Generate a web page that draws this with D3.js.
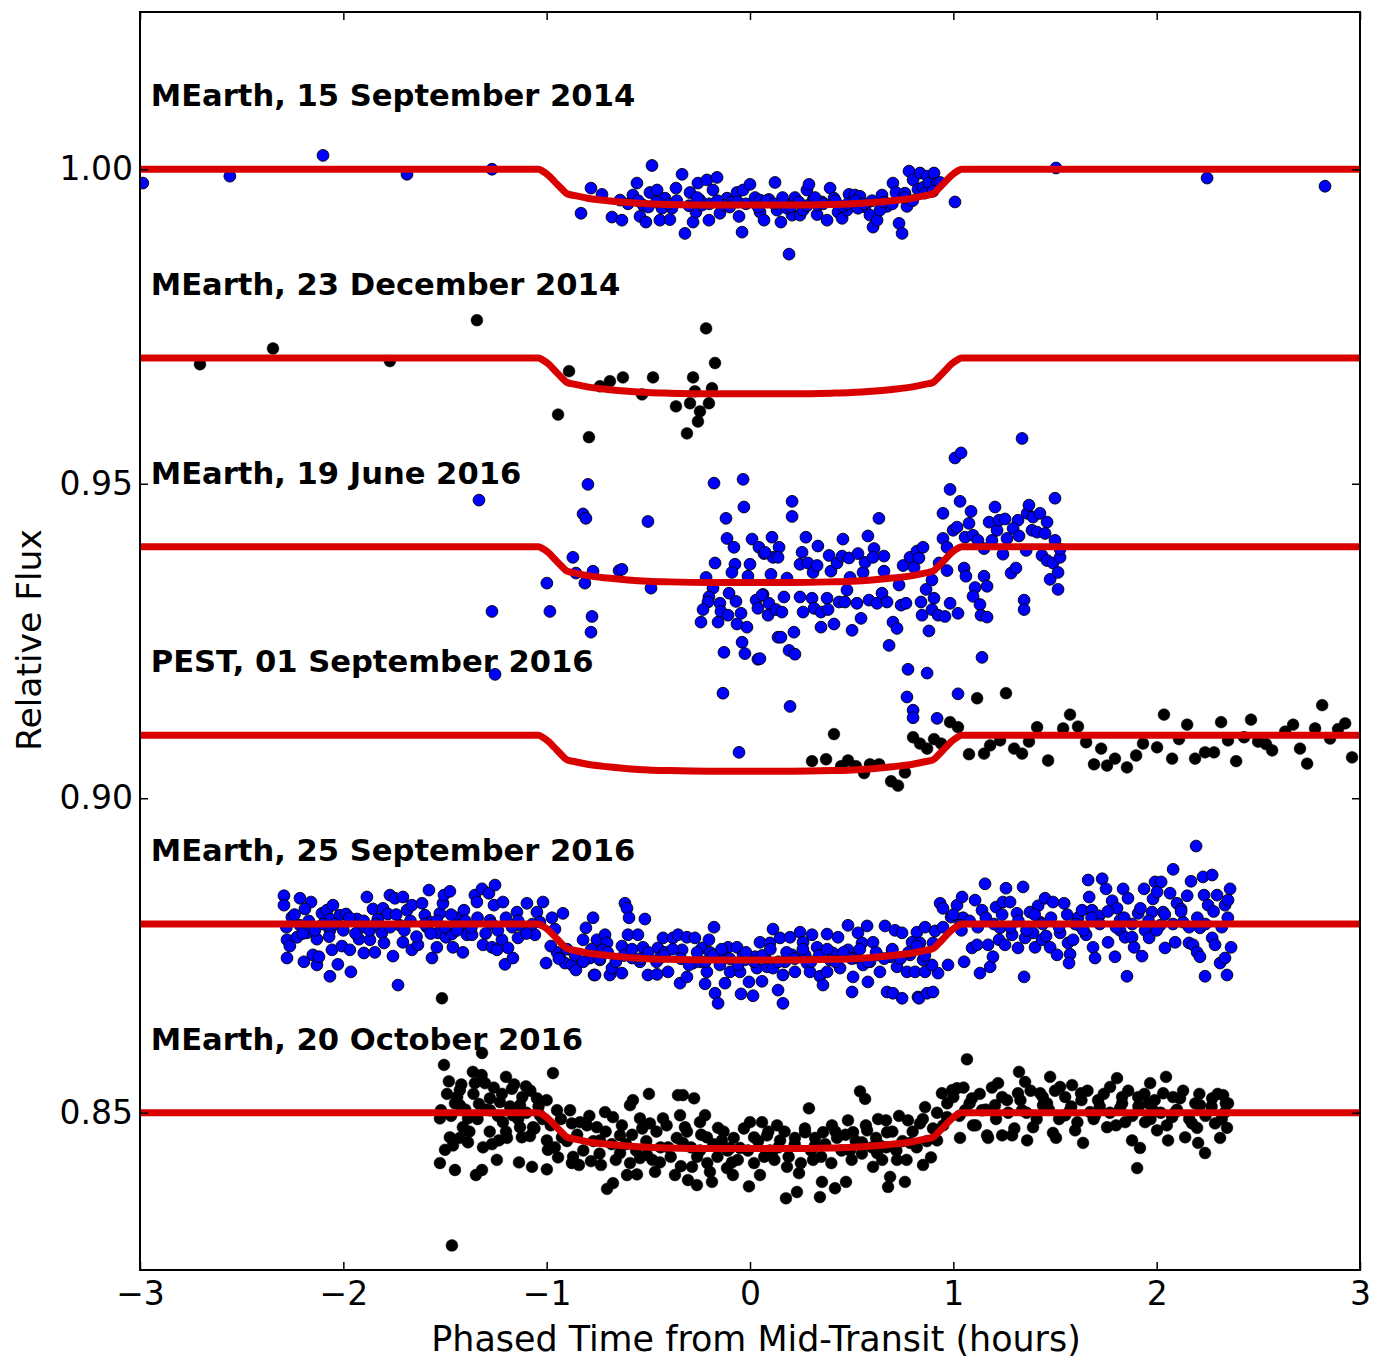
<!DOCTYPE html>
<html><head><meta charset="utf-8">
<script src="https://cdn.jsdelivr.net/npm/d3@7"></script>
<style>body{margin:0;background:#fff}svg{display:block}</style>
</head><body>
<svg id="c" width="1388" height="1359"></svg>
<script>
const xTicks=[-3,-2,-1,0,1,2,3];
const yTicks=[0.85,0.90,0.95,1.00];
const offsets=[1.00,0.97,0.94,0.91,0.88,0.85];
const titles=["MEarth, 15 September 2014","MEarth, 23 December 2014","MEarth, 19 June 2016","PEST, 01 September 2016","MEarth, 25 September 2016","MEarth, 20 October 2016"];
const markerColors=["#0000ff","#000000","#0000ff","#000000","#0000ff","#000000"];
const modelTime=[-3,-1.04,-1.02,-0.99,-0.96,-0.93,-0.9,-0.86,-0.8,-0.7,-0.6,-0.5,-0.4,-0.2,0,0.2,0.4,0.5,0.6,0.7,0.8,0.86,0.9,0.93,0.96,0.99,1.02,1.04,3];
const modelDepth=[0,0,-0.0003,-0.0010,-0.0020,-0.0030,-0.0039,-0.0042,-0.0046,-0.0050,-0.0053,-0.0055,-0.0056,-0.0057,-0.0057,-0.0057,-0.0056,-0.0055,-0.0053,-0.0050,-0.0046,-0.0042,-0.0039,-0.0030,-0.0020,-0.0010,-0.0003,0,0];

const sep2014=[[-2.986,0.9978],[-2.558,0.9989],[-2.100,1.0022],[-1.687,0.9992],[-1.269,1.0000],[1.008,0.9948],[1.505,1.0002],[2.248,0.9986],[2.828,0.9973],
[-0.831,0.9930],[-0.782,0.9970],[-0.728,0.9960],[-0.679,0.9924],[-0.630,0.9919],[-0.576,0.9959],[-0.556,0.9978],[-0.541,0.9925],[-0.512,0.9916],[-0.526,0.9943],[-0.482,1.0006],[-0.492,0.9963],[-0.457,0.9967],[-0.443,0.9919],[-0.418,0.9954],[-0.394,0.9920],[-0.384,0.9938],[-0.364,0.9970],[-0.334,0.9992],[-0.320,0.9898],[-0.295,0.9963],[-0.280,0.9916],[-0.266,0.9932],[-0.256,0.9978],[-0.236,0.9943],[-0.212,0.9983],[-0.202,0.9919],[-0.182,0.9967],[-0.162,0.9987],[-0.148,0.9930],[-0.113,0.9954],[-0.089,0.9948],[-0.064,0.9963],[-0.054,0.9925],[-0.039,0.9900],[-0.034,0.9967],[0.000,0.9976],[0.025,0.9955],[0.049,0.9932],[0.069,0.9919],[0.093,0.9952],[0.123,0.9979],[0.133,0.9935],[0.152,0.9916],[0.172,0.9946],[0.192,0.9865],[0.207,0.9927],[0.221,0.9955],[0.246,0.9927],[0.261,0.9935],[0.280,0.9967],[0.290,0.9976],[0.310,0.9951],[0.330,0.9928],[0.354,0.9948],[0.379,0.9919],[0.394,0.9970],[0.413,0.9954],[0.433,0.9932],[0.453,0.9922],[0.477,0.9935],[0.487,0.9960],[0.516,0.9959],[0.541,0.9957],[0.566,0.9940],[0.590,0.9927],[0.605,0.9908],[0.625,0.9919],[0.649,0.9959],[0.674,0.9941],[0.703,0.9978],[0.718,0.9963],[0.733,0.9914],[0.748,0.9898],[0.762,0.9962],[0.772,0.9941],[0.782,0.9997],[0.802,0.9983],[0.826,0.9968],[0.836,0.9994],[0.851,0.9971],[0.871,0.9989],[0.880,0.9978],[0.905,0.9994],[0.920,0.9978],[0.935,0.9979],
[-0.246,0.9951],[-0.128,0.9943],[0.049,0.9951],[0.182,0.9938],[0.334,0.9943],[0.457,0.9941],[0.531,0.9938],[0.639,0.9935],[-0.433,0.9938],[-0.639,0.9951],
[-0.60,0.9945],[-0.55,0.9950],[-0.50,0.9940],[-0.46,0.9948],[-0.40,0.9945],[-0.36,0.9950],[-0.30,0.9942],[-0.26,0.9955],[-0.20,0.9945],[-0.16,0.9950],[-0.10,0.9940],[-0.06,0.9948],[-0.02,0.9945],[0.04,0.9940],[0.08,0.9950],[0.12,0.9945],[0.16,0.9955],[0.20,0.9940],[0.24,0.9948],[0.28,0.9942],[0.32,0.9955],[0.36,0.9945],[0.42,0.9950],[0.48,0.9945],[0.52,0.9950],[0.56,0.9945],[0.60,0.9950],[0.66,0.9948],[0.70,0.9945],[0.76,0.9955],[0.80,0.9950],[0.86,0.9962],[0.90,0.9965]];

const dec2014=[[-2.705,0.9690],[-2.346,0.9715],[-1.771,0.9695],[-1.343,0.9760],[-0.890,0.9679],[-0.944,0.9610],[-0.792,0.9574],[-0.738,0.9655],[-0.689,0.9663],[-0.625,0.9669],[-0.531,0.9642],[-0.477,0.9669],[-0.364,0.9623],[-0.310,0.9580],[-0.295,0.9628],[-0.280,0.9669],[-0.271,0.9647],[-0.256,0.9599],[-0.246,0.9615],[-0.216,0.9747],[-0.202,0.9628],[-0.187,0.9652],[-0.172,0.9692]];

const jun2016=[[-1.333,0.9474],[-1.269,0.9297],[-1.254,0.9197],[-0.999,0.9342],[-0.984,0.9297],[-0.871,0.9383],[-0.856,0.9358],[-0.812,0.9342],[-0.797,0.9499],[-0.821,0.9452],[-0.807,0.9445],[-0.772,0.9361],[-0.777,0.9289],[-0.782,0.9264],[-0.644,0.9362],[-0.630,0.9364],[-0.502,0.9440],[-0.487,0.9334],[-0.177,0.9501],[-0.034,0.9507],[-0.030,0.9463],[-0.118,0.9445],[-0.113,0.9413],[-0.079,0.9399],[-0.172,0.9374],[-0.216,0.9351],[-0.074,0.9372],[-0.089,0.9359],[-0.182,0.9334],[-0.202,0.9320],[-0.207,0.9312],[-0.231,0.9300],[-0.241,0.9280],[-0.157,0.9280],[-0.148,0.9310],[-0.143,0.9297],[-0.103,0.9326],[-0.108,0.9291],[-0.069,0.9313],[-0.044,0.9294],[-0.064,0.9277],[-0.015,0.9272],[-0.039,0.9248],[-0.128,0.9232],[-0.025,0.9230],[0.039,0.9221],[0.010,0.9412],[0.000,0.9372],[-0.010,0.9353],[0.044,0.9399],[0.069,0.9389],[0.108,0.9415],[0.113,0.9383],[0.103,0.9356],[0.064,0.9324],[0.030,0.9315],[0.039,0.9302],[0.093,0.9310],[0.089,0.9291],[0.128,0.9300],[0.138,0.9256],[0.207,0.9472],[0.207,0.9448],[0.074,0.9391],[0.143,0.9399],[0.138,0.9383],[0.059,0.9323],[0.157,0.9296],[0.167,0.9320],[0.182,0.9350],[0.152,0.9256],[0.216,0.9264],[0.192,0.9235],[0.221,0.9229],[0.049,0.9222],[0.246,0.9372],[0.256,0.9391],[0.275,0.9415],[0.285,0.9374],[0.310,0.9359],[0.334,0.9401],[0.330,0.9370],[0.246,0.9320],[0.261,0.9296],[0.305,0.9318],[0.315,0.9302],[0.349,0.9296],[0.349,0.9272],[0.379,0.9318],[0.389,0.9386],[0.398,0.9361],[0.384,0.9300],[0.413,0.9277],[0.428,0.9374],[0.453,0.9385],[0.457,0.9412],[0.438,0.9312],[0.467,0.9312],[0.477,0.9331],[0.487,0.9382],[0.492,0.9351],[0.502,0.9267],[0.531,0.9389],[0.526,0.9310],[0.546,0.9286],[0.556,0.9359],[0.566,0.9375],[0.580,0.9417],[0.585,0.9315],[0.610,0.9397],[0.605,0.9383],[0.634,0.9445],[0.625,0.9310],[0.659,0.9385],[0.659,0.9361],[0.649,0.9326],[0.674,0.9312],[0.703,0.9280],[0.723,0.9270],[0.684,0.9243],[0.733,0.9339],[0.743,0.9307],[0.753,0.9370],[0.767,0.9310],[0.777,0.9205],[0.787,0.9383],[0.807,0.9367],[0.821,0.9393],[0.831,0.9382],[0.851,0.9399],[0.841,0.9312],[0.846,0.9291],[0.866,0.9332],[0.871,0.9199],[0.880,0.9266],[0.895,0.9347],[0.905,0.9318],[0.895,0.9300],[0.930,0.9374],[0.925,0.9291],[0.959,0.9289],[0.949,0.9413],[0.949,0.9453],[0.969,0.9362],[0.969,0.9399],[0.984,0.9491],[0.999,0.9426],[1.008,0.9541],[1.038,0.9549],[1.018,0.9431],[1.033,0.9472],[0.984,0.9310],[1.023,0.9294],[1.053,0.9366],[1.062,0.9353],[1.077,0.9437],[1.087,0.9456],[1.058,0.9415],[1.097,0.9418],[1.107,0.9335],[1.097,0.9321],[1.131,0.9308],[1.136,0.9291],[1.166,0.9288],[1.151,0.9353],[1.166,0.9337],[1.141,0.9224],[1.121,0.9410],[1.151,0.9397],[1.176,0.9439],[1.205,0.9463],[1.190,0.9410],[1.215,0.9426],[1.225,0.9442],[1.254,0.9444],[1.244,0.9388],[1.264,0.9413],[1.284,0.9358],[1.308,0.9366],[1.318,0.9442],[1.294,0.9429],[1.323,0.9417],[1.348,0.9315],[1.348,0.9300],[1.338,0.9572],[1.358,0.9394],[1.363,0.9453],[1.372,0.9466],[1.392,0.9447],[1.387,0.9426],[1.426,0.9453],[1.412,0.9423],[1.436,0.9386],[1.461,0.9439],[1.451,0.9421],[1.461,0.9378],[1.476,0.9348],[1.500,0.9477],[1.500,0.9410],[1.490,0.9374],[1.515,0.9359],[1.515,0.9332],[1.525,0.9383],[1.525,0.9396],
[-0.133,0.9167],[0.197,0.9146],[-0.054,0.9073],[0.772,0.9161],[0.802,0.9140],[0.802,0.9128],[0.920,0.9127],[1.023,0.9166]];

const pest2016=[[0.413,0.9102],[0.305,0.9059],[0.374,0.9062],[0.448,0.9051],[0.482,0.9060],[0.521,0.9051],[0.561,0.9040],[0.590,0.9054],[0.635,0.9054],[0.694,0.9027],[0.728,0.9020],[0.762,0.9041],[0.802,0.9097],[0.836,0.9087],[0.871,0.9079],[0.905,0.9094],[0.940,0.9087],[0.984,0.9121],[1.023,0.9113],[1.117,0.9159],[1.077,0.9070],[1.151,0.9071],[1.181,0.9084],[1.230,0.9092],[1.259,0.9167],[1.299,0.9079],[1.338,0.9071],[1.372,0.9090],[1.412,0.9113],[1.466,0.9060],[1.540,0.9111],[1.574,0.9133],[1.613,0.9114],[1.653,0.9089],[1.692,0.9054],[1.727,0.9079],[1.756,0.9052],[1.795,0.9063],[1.854,0.9049],[1.899,0.9068],[1.933,0.9087],[2.002,0.9081],[2.036,0.9133],[2.076,0.9063],[2.110,0.9094],[2.150,0.9117],[2.189,0.9063],[2.238,0.9073],[2.282,0.9073],[2.317,0.9121],[2.351,0.9092],[2.391,0.9059],[2.430,0.9097],[2.464,0.9125],[2.499,0.9090],[2.538,0.9086],[2.568,0.9076],[2.632,0.9106],[2.671,0.9117],[2.705,0.9079],[2.740,0.9055],[2.779,0.9111],[2.814,0.9148],[2.853,0.9095],[2.892,0.9110],[2.927,0.9119],[2.961,0.9065]];

const sep2016=[[-2.292,0.8845],[-2.292,0.8830],[-2.213,0.8841],[-2.159,0.8835],[-2.189,0.8824],[-2.253,0.8811],[-2.277,0.8775],[-2.263,0.8765],[-2.228,0.8779],[-2.277,0.8746],[-2.194,0.8740],[-2.150,0.8751],[-2.130,0.8735],[-2.120,0.8748],[-2.179,0.8786],[-2.130,0.8776],[-2.105,0.8817],[-2.081,0.8822],[-2.051,0.8830],[-2.066,0.8808],[-2.056,0.8759],[-2.066,0.8717],[-2.027,0.8736],[-2.017,0.8814],[-2.007,0.8765],[-1.987,0.8816],[-1.968,0.8759],[-1.963,0.8724],[-1.933,0.8808],[-1.923,0.8776],[-1.884,0.8843],[-1.894,0.8795],[-1.899,0.8754],[-1.869,0.8775],[-1.854,0.8824],[-1.845,0.8755],[-1.830,0.8808],[-1.810,0.8786],[-1.805,0.8825],[-1.781,0.8816],[-1.771,0.8846],[-1.756,0.8749],[-1.746,0.8841],[-1.731,0.8703],[-1.707,0.8843],[-1.687,0.8822],[-1.707,0.8771],[-1.663,0.8759],[-1.663,0.8830],[-1.633,0.8767],[-1.613,0.8833],[-1.599,0.8814],[-1.589,0.8795],[-1.579,0.8854],[-1.564,0.8746],[-1.540,0.8763],[-1.535,0.8786],[-1.525,0.8817],[-1.510,0.8833],[-1.505,0.8846],[-1.476,0.8852],[-1.495,0.8779],[-1.466,0.8784],[-1.461,0.8763],[-1.441,0.8810],[-1.412,0.8755],[-1.407,0.8822],[-1.392,0.8783],[-1.367,0.8783],[-1.353,0.8846],[-1.343,0.8835],[-1.318,0.8856],[-1.313,0.8767],[-1.284,0.8849],[-1.269,0.8763],[-1.254,0.8862],[-1.259,0.8830],[-1.244,0.8759],[-1.215,0.8835],[-1.220,0.8775],[-1.190,0.8762],[-1.205,0.8736],[-1.166,0.8746],[-1.146,0.8819],[-1.141,0.8778],[-1.097,0.8833],[-1.082,0.8794],[-1.058,0.8783],[-1.048,0.8819],[-1.018,0.8835],[-1.003,0.8738],[-0.974,0.8810],[-0.959,0.8792],[-0.949,0.8755],[-0.935,0.8746],[-0.920,0.8817],[-0.910,0.8738],[-0.876,0.8735],[-0.856,0.8727],[-0.821,0.8775],[-0.807,0.8794],[-0.787,0.8746],[-0.772,0.8810],[-0.767,0.8719],[-0.748,0.8763],[-0.615,0.8833],[-0.605,0.8825],[-0.595,0.8810],[-0.517,0.8808],[-0.753,0.8775],[-0.713,0.8783],[-0.703,0.8770],[-0.728,0.8759],[-0.762,0.8719],[-0.689,0.8719],[-0.679,0.8730],[-0.630,0.8722],[-0.630,0.8765],[-0.600,0.8783],[-0.580,0.8746],[-0.551,0.8783],[-0.526,0.8763],[-0.502,0.8719],[-0.457,0.8720],[-0.453,0.8762],[-0.418,0.8755],[-0.403,0.8724],[-0.428,0.8778],[-0.379,0.8778],[-0.354,0.8783],[-0.344,0.8706],[-0.334,0.8759],[-0.310,0.8779],[-0.310,0.8716],[-0.271,0.8778],[-0.280,0.8738],[-0.236,0.8762],[-0.221,0.8705],[-0.202,0.8775],[-0.197,0.8755],[-0.212,0.8724],[-0.177,0.8795],[-0.172,0.8690],[-0.157,0.8674],[-0.138,0.8751],[-0.123,0.8706],[-0.108,0.8763],[-0.098,0.8724],[-0.064,0.8763],[-0.049,0.8724],[-0.044,0.8689],[-0.034,0.8751],[-0.005,0.8708],[0.015,0.8686],[0.025,0.8748],[0.034,0.8730],[0.049,0.8771],[0.059,0.8709],[0.084,0.8732],[0.098,0.8770],[0.113,0.8792],[0.113,0.8730],[0.138,0.8695],[0.162,0.8674],[0.148,0.8778],[0.162,0.8719],[0.197,0.8779],[0.207,0.8751],[0.221,0.8724],[0.246,0.8787],[0.261,0.8771],[0.280,0.8738],[0.295,0.8724],[0.305,0.8783],[0.330,0.8763],[0.344,0.8717],[0.359,0.8703],[0.379,0.8784],[0.379,0.8724],[0.408,0.8754],[0.433,0.8779],[0.443,0.8730],[0.482,0.8798],[0.482,0.8759],[0.502,0.8692],[0.507,0.8716],[0.531,0.8786],[0.551,0.8770],[0.556,0.8735],[0.576,0.8797],[0.580,0.8708],[0.605,0.8771],[0.625,0.8751],[0.639,0.8724],[0.664,0.8797],[0.674,0.8692],[0.699,0.8759],[0.703,0.8690],[0.713,0.8790],[0.723,0.8732],[0.748,0.8786],[0.748,0.8682],[0.772,0.8724],[0.797,0.8771],[0.812,0.8724],[0.821,0.8787],[0.826,0.8684],[0.831,0.8682],[0.871,0.8690],[0.900,0.8692],[0.861,0.8724],[0.925,0.8722],[0.895,0.8735],[0.851,0.8743],[0.836,0.8770],[0.861,0.8795],[0.910,0.8789],[0.949,0.8795],[0.935,0.8833],[0.949,0.8825],[0.989,0.8811],[0.974,0.8735],[1.018,0.8830],[1.043,0.8843],[1.053,0.8740],[1.048,0.8810],[1.092,0.8762],[1.117,0.8767],[1.107,0.8838],[1.131,0.8722],[1.156,0.8864],[1.141,0.8822],[1.171,0.8767],[1.181,0.8732],[1.195,0.8748],[1.210,0.8827],[1.225,0.8775],[1.254,0.8767],[1.259,0.8857],[1.244,0.8835],[1.279,0.8835],[1.289,0.8783],[1.313,0.8817],[1.318,0.8762],[1.343,0.8859],[1.353,0.8778],[1.348,0.8716],[1.377,0.8819],[1.392,0.8786],[1.402,0.8763],[1.417,0.8829],[1.436,0.8775],[1.451,0.8841],[1.456,0.8781],[1.476,0.8763],[1.490,0.8835],[1.510,0.8751],[1.525,0.8786],[1.545,0.8833],[1.564,0.8770],[1.574,0.8752],[1.569,0.8738],[1.589,0.8775],[1.613,0.8810],[1.633,0.8822],[1.653,0.8783],[1.663,0.8870],[1.668,0.8843],[1.682,0.8822],[1.687,0.8763],[1.697,0.8746],[1.717,0.8813],[1.732,0.8872],[1.751,0.8856],[1.761,0.8771],[1.781,0.8837],[1.795,0.8748],[1.805,0.8825],[1.820,0.8790],[1.835,0.8856],[1.845,0.8779],[1.859,0.8841],[1.854,0.8717],[1.879,0.8779],[1.889,0.8763],[1.909,0.8817],[1.928,0.8749],[1.938,0.8856],[1.943,0.8790],[1.963,0.8778],[1.977,0.8819],[1.982,0.8840],[1.992,0.8867],[2.002,0.8851],[2.022,0.8867],[2.032,0.8819],[2.041,0.8762],[2.066,0.8849],[2.081,0.8887],[2.091,0.8771],[2.100,0.8833],[2.120,0.8824],[2.130,0.8803],[2.150,0.8845],[2.159,0.8770],[2.169,0.8868],[2.179,0.8767],[2.194,0.8924],[2.199,0.8755],[2.213,0.8748],[2.228,0.8875],[2.233,0.8846],[2.238,0.8717],[2.253,0.8830],[2.273,0.8878],[2.273,0.8778],[2.287,0.8767],[2.297,0.8846],[2.312,0.8738],[2.336,0.8746],[2.336,0.8830],[2.346,0.8719],[2.351,0.8838],[2.361,0.8856],[2.366,0.8763],
[-0.738,0.8743],[-0.541,0.8740],[-0.443,0.8746],[-0.246,0.8740],[-0.148,0.8735],[-0.025,0.8743],[0.074,0.8746],[0.172,0.8740],[0.271,0.8751],[0.394,0.8743],[0.516,0.8746],[0.590,0.8740],[0.689,0.8748],[0.787,0.8751],
[-2.213,0.8798],[-2.066,0.8790],[-1.918,0.8794],[-1.722,0.8798],[-1.574,0.8803],[-1.426,0.8798],[-1.279,0.8806],[-1.131,0.8798],[-1.033,0.8803],[1.033,0.8798],[1.230,0.8794],[1.426,0.8803],[1.623,0.8797],[1.820,0.8806],[2.017,0.8798],[2.213,0.8794],
[-2.28,0.8795],[-2.24,0.8815],[-2.20,0.8785],[-2.17,0.8805],[-2.14,0.8790],[-2.10,0.8800],[-2.07,0.8780],[-2.04,0.8800],[-2.00,0.8790],[-1.97,0.8810],[-1.94,0.8785],[-1.90,0.8805],[-1.87,0.8790],[-1.84,0.8800],[-1.80,0.8770],[-1.77,0.8795],[-1.74,0.8815],[-1.70,0.8790],[-1.67,0.8805],[-1.64,0.8780],[-1.60,0.8800],[-1.57,0.8785],[-1.54,0.8805],[-1.50,0.8795],[-1.47,0.8815],[-1.44,0.8790],[-1.40,0.8805],[-1.37,0.8795],[-1.34,0.8810],[-1.30,0.8785],[-1.27,0.8800],[-1.24,0.8790],[-1.20,0.8810],[-1.17,0.8795],[-1.14,0.8805],[-1.10,0.8785],[-1.07,0.8800],
[-0.98,0.8765],[-0.94,0.8745],[-0.90,0.8760],[-0.86,0.8750],[-0.82,0.8740],[-0.78,0.8760],[-0.74,0.8745],[-0.70,0.8755],[-0.66,0.8740],[-0.62,0.8750],[-0.58,0.8760],[-0.54,0.8745],[-0.50,0.8755],[-0.46,0.8740],[-0.42,0.8750],[-0.38,0.8760],[-0.34,0.8745],[-0.30,0.8735],[-0.26,0.8755],[-0.22,0.8740],[-0.18,0.8750],[-0.14,0.8760],[-0.10,0.8745],[-0.06,0.8735],[-0.02,0.8755],[0.02,0.8740],[0.06,0.8750],[0.10,0.8760],[0.14,0.8740],[0.18,0.8755],[0.22,0.8745],[0.26,0.8760],[0.30,0.8740],[0.34,0.8750],[0.38,0.8760],[0.42,0.8740],[0.46,0.8755],[0.50,0.8745],[0.54,0.8760],[0.58,0.8740],[0.62,0.8755],[0.66,0.8745],[0.70,0.8760],[0.74,0.8745],[0.78,0.8755],[0.82,0.8765],[0.86,0.8750],[0.90,0.8770],
[1.00,0.8815],[1.04,0.8790],[1.08,0.8805],[1.12,0.8795],[1.16,0.8810],[1.20,0.8800],[1.24,0.8815],[1.28,0.8795],[1.32,0.8805],[1.36,0.8790],[1.40,0.8815],[1.44,0.8800],[1.48,0.8810],[1.52,0.8795],[1.56,0.8815],[1.60,0.8800],[1.64,0.8790],[1.68,0.8810],[1.72,0.8800],[1.76,0.8820],[1.80,0.8795],[1.84,0.8810],[1.88,0.8800],[1.92,0.8825],[1.96,0.8805],[2.00,0.8790],[2.04,0.8815],[2.08,0.8800],[2.12,0.8820],[2.16,0.8795],[2.20,0.8810],[2.24,0.8800],[2.28,0.8820],[2.32,0.8795],[2.35,0.8810]];

const oct2016=[[-1.505,0.8576],[-1.481,0.8550],[-1.427,0.8536],[-1.363,0.8565],[-1.318,0.8595],[-1.303,0.8547],[-1.353,0.8547],[-1.200,0.8557],[-1.171,0.8538],[-1.102,0.8542],[-0.969,0.8563],[-1.048,0.8523],[-1.279,0.8523],[-1.230,0.8517],[-1.451,0.8515],[-1.333,0.8514],[-1.520,0.8504],[-1.525,0.8491],[-1.412,0.8477],[-1.387,0.8491],[-1.215,0.8485],[-1.131,0.8477],[-1.067,0.8477],[-1.166,0.8496],[-1.476,0.8461],[-1.427,0.8460],[-1.500,0.8441],[-1.461,0.8448],[-1.387,0.8453],[-1.313,0.8445],[-1.269,0.8450],[-1.235,0.8456],[-1.195,0.8460],[-1.122,0.8461],[-1.082,0.8463],[-0.999,0.8456],[-0.994,0.8441],[-0.949,0.8504],[-0.885,0.8504],[-0.925,0.8461],[-0.876,0.8483],[-0.836,0.8485],[-0.802,0.8480],[-0.753,0.8477],[-0.713,0.8501],[-0.674,0.8493],[-0.590,0.8512],[-0.576,0.8520],[-0.497,0.8530],[-0.541,0.8491],[-0.492,0.8483],[-0.428,0.8491],[-0.354,0.8528],[-0.344,0.8496],[-1.525,0.8420],[-1.451,0.8409],[-1.348,0.8401],[-1.318,0.8409],[-1.245,0.8425],[-1.136,0.8421],[-1.072,0.8414],[-0.999,0.8410],[-0.944,0.8429],[-0.876,0.8420],[-0.841,0.8417],[-0.782,0.8423],[-0.733,0.8417],[-0.703,0.8379],[-0.674,0.8388],[-0.639,0.8436],[-0.605,0.8401],[-0.590,0.8420],[-0.556,0.8402],[-0.541,0.8428],[-0.507,0.8433],[-0.467,0.8406],[-0.443,0.8421],[-0.369,0.8401],[-0.403,0.8445],[-0.330,0.8452],[-1.466,0.8289],[-1.515,0.8682],
[-0.275,0.8523],[-0.330,0.8528],[-0.320,0.8477],[-0.246,0.8485],[-0.221,0.8496],[-0.212,0.8461],[-0.285,0.8414],[-0.305,0.8393],[-0.261,0.8385],[-0.197,0.8406],[-0.187,0.8390],[-0.157,0.8476],[-0.138,0.8456],[-0.113,0.8412],[-0.089,0.8421],[-0.084,0.8401],[-0.049,0.8444],[0.000,0.8485],[-0.005,0.8383],[0.020,0.8461],[0.059,0.8485],[0.049,0.8401],[0.084,0.8464],[0.108,0.8436],[0.133,0.8480],[0.148,0.8456],[0.177,0.8364],[0.182,0.8414],[0.221,0.8460],[0.231,0.8374],[0.241,0.8404],[0.271,0.8469],[0.290,0.8507],[0.310,0.8425],[0.344,0.8366],[0.354,0.8390],[0.359,0.8469],[0.403,0.8480],[0.418,0.8380],[0.428,0.8460],[0.472,0.8390],[0.482,0.8488],[0.507,0.8469],[0.541,0.8534],[0.566,0.8522],[0.551,0.8453],[0.576,0.8472],[0.605,0.8414],[0.625,0.8436],[0.630,0.8490],[0.669,0.8488],[0.674,0.8469],[0.689,0.8398],[0.679,0.8382],[0.723,0.8425],[0.733,0.8495],[0.762,0.8390],[0.777,0.8488],[0.787,0.8452],[0.836,0.8483],[0.861,0.8509],[0.851,0.8417],[0.890,0.8429],[0.920,0.8456],[0.944,0.8531],[0.969,0.8493],[0.994,0.8536],
[1.067,0.8585],[1.018,0.8539],[1.033,0.8460],[1.092,0.8523],[1.097,0.8480],[1.141,0.8504],[1.166,0.8464],[1.171,0.8460],[1.220,0.8547],[1.240,0.8464],[1.264,0.8520],[1.289,0.8464],[1.318,0.8531],[1.323,0.8565],[1.353,0.8549],[1.363,0.8456],[1.392,0.8477],[1.427,0.8531],[1.441,0.8512],[1.476,0.8557],[1.490,0.8468],[1.505,0.8460],[1.525,0.8541],[1.550,0.8496],[1.584,0.8544],[1.599,0.8472],[1.628,0.8531],[1.638,0.8452],[1.672,0.8501],[1.712,0.8520],[1.756,0.8477],[1.771,0.8541],[1.805,0.8555],[1.830,0.8525],[1.845,0.8485],[1.879,0.8456],[1.904,0.8412],[1.909,0.8525],[1.918,0.8444],[1.943,0.8485],[1.968,0.8547],[1.982,0.8504],[2.002,0.8472],[2.032,0.8531],[2.046,0.8557],[2.056,0.8456],[2.076,0.8493],[2.115,0.8523],[2.140,0.8461],[2.174,0.8483],[2.199,0.8476],[2.204,0.8452],[2.238,0.8436],[2.273,0.8523],[2.287,0.8483],[2.312,0.8460],[2.327,0.8528],[2.346,0.8476],[2.351,0.8515],
[1.058,0.8504],[1.205,0.8512],[1.338,0.8504],[1.461,0.8515],[1.574,0.8504],[1.697,0.8496],[1.820,0.8507],[1.958,0.8515],[2.091,0.8501],[2.213,0.8512],[2.336,0.8501],
[-0.246,0.8440],[-0.098,0.8444],[0.098,0.8440],[0.320,0.8448],[0.492,0.8440],[0.639,0.8448],[-0.738,0.8456],[-0.639,0.8464],[-1.427,0.8512],[-1.279,0.8504],[-1.131,0.8512],[-1.033,0.8496],
[-1.49,0.8530],[-1.47,0.8495],[-1.44,0.8525],[-1.42,0.8545],[-1.40,0.8505],[-1.38,0.8470],[-1.36,0.8530],[-1.34,0.8490],[-1.32,0.8560],[-1.30,0.8505],[-1.28,0.8470],[-1.26,0.8540],[-1.24,0.8495],[-1.22,0.8530],[-1.20,0.8470],[-1.18,0.8510],[-1.16,0.8545],[-1.14,0.8490],[-1.12,0.8525],[-1.10,0.8500],[-1.08,0.8535],[-1.06,0.8475],[-1.04,0.8510],[-1.02,0.8490],[-1.00,0.8520],
[-0.98,0.8480],[-0.96,0.8445],[-0.93,0.8490],[-0.90,0.8455],[-0.87,0.8430],[-0.85,0.8465],[-0.82,0.8440],[-0.79,0.8495],[-0.77,0.8455],[-0.74,0.8435],[-0.71,0.8470],[-0.68,0.8450],[-0.66,0.8425],[-0.63,0.8480],[-0.61,0.8450],[-0.58,0.8465],[-0.56,0.8440],[-0.53,0.8475],[-0.51,0.8455],[-0.48,0.8425],[-0.46,0.8470],[-0.44,0.8445],[-0.41,0.8480],[-0.39,0.8430],[-0.36,0.8460],[-0.34,0.8415],[-0.31,0.8470],[-0.29,0.8445],[-0.26,0.8430],[-0.24,0.8465],[-0.21,0.8420],[-0.18,0.8450],[-0.16,0.8430],[-0.13,0.8470],[-0.11,0.8440],[-0.08,0.8460],[-0.06,0.8425],[-0.03,0.8475],[-0.01,0.8440],[0.02,0.8420],[0.04,0.8455],[0.07,0.8430],[0.09,0.8470],[0.12,0.8425],[0.14,0.8445],[0.17,0.8470],[0.19,0.8430],[0.22,0.8450],[0.25,0.8420],[0.27,0.8475],[0.30,0.8440],[0.32,0.8460],[0.35,0.8430],[0.37,0.8450],[0.40,0.8420],[0.42,0.8470],[0.45,0.8440],[0.47,0.8465],[0.50,0.8425],[0.52,0.8455],[0.55,0.8435],[0.57,0.8480],[0.60,0.8445],[0.62,0.8460],[0.65,0.8425],[0.67,0.8445],[0.70,0.8470],[0.72,0.8440],[0.75,0.8455],[0.77,0.8425],[0.80,0.8470],[0.82,0.8445],[0.85,0.8490],[0.87,0.8455],[0.90,0.8475],[0.92,0.8500],[0.95,0.8480],[0.97,0.8515],
[1.00,0.8525],[1.03,0.8495],[1.05,0.8540],[1.08,0.8515],[1.11,0.8480],[1.13,0.8530],[1.16,0.8505],[1.19,0.8540],[1.21,0.8490],[1.24,0.8525],[1.27,0.8500],[1.30,0.8475],[1.33,0.8520],[1.36,0.8500],[1.38,0.8535],[1.41,0.8490],[1.44,0.8525],[1.47,0.8505],[1.50,0.8535],[1.52,0.8490],[1.55,0.8525],[1.58,0.8510],[1.61,0.8485],[1.63,0.8520],[1.66,0.8535],[1.69,0.8490],[1.72,0.8510],[1.74,0.8530],[1.77,0.8500],[1.80,0.8480],[1.83,0.8515],[1.86,0.8535],[1.88,0.8495],[1.91,0.8510],[1.94,0.8530],[1.97,0.8490],[1.99,0.8520],[2.02,0.8500],[2.05,0.8480],[2.08,0.8525],[2.10,0.8505],[2.13,0.8535],[2.16,0.8490],[2.19,0.8515],[2.21,0.8530],[2.24,0.8495],[2.27,0.8510],[2.30,0.8530],[2.32,0.8490],[2.34,0.8515]];

const datasets=[sep2014,dec2014,jun2016,pest2016,sep2016,oct2016];

const L=140,R=1360,T=12,B=1270;
const svg=d3.select("#c");
svg.append("rect").attr("width",1388).attr("height",1359).attr("fill","#fff");
svg.append("defs").append("clipPath").attr("id","clip").append("rect").attr("x",L).attr("y",T).attr("width",R-L).attr("height",B-T);
const x=d3.scaleLinear().domain([-3,3]).range([L,R]);
const y=d3.scaleLinear().domain([0.825,1.025]).range([B,T]);
const plot=svg.append("g").attr("clip-path","url(#clip)");

datasets.forEach((data,i)=>{
  const blue=markerColors[i]!=="#000000";
  plot.append("g").selectAll("circle").data(data).enter().append("circle")
    .attr("cx",d=>x(d[0])).attr("cy",d=>y(d[1])).attr("r",5.9)
    .attr("fill",markerColors[i]).attr("stroke","#000").attr("stroke-width",blue?0.9:0.5);
});

const model=modelTime.map((t,k)=>[t,modelDepth[k]]);
offsets.forEach(o=>{
  plot.append("path").datum(model)
    .attr("d",d3.line().x(d=>x(d[0])).y(d=>y(o+d[1])).curve(d3.curveMonotoneX))
    .attr("fill","none").attr("stroke","#d90000").attr("stroke-width",7).attr("stroke-linejoin","round");
});

const FONT='"DejaVu Sans", sans-serif';
function styleAxis(g){
  g.select(".domain").remove();
  g.selectAll(".tick line").attr("stroke","#000").attr("stroke-width",1.5);
  g.selectAll("text").attr("font-family",FONT).attr("font-size",33).attr("fill","#000");
}
svg.append("g").attr("transform",`translate(0,${B})`)
  .call(d3.axisBottom(x).tickValues(xTicks).tickSize(-8).tickPadding(12).tickFormat(d3.format("d"))).call(styleAxis);
svg.append("g").attr("transform",`translate(0,${T})`)
  .call(d3.axisTop(x).tickValues(xTicks).tickSize(-8).tickFormat("")).call(styleAxis);
svg.append("g").attr("transform",`translate(${L},0)`)
  .call(d3.axisLeft(y).tickValues(yTicks).tickSize(-8).tickPadding(7).tickFormat(d3.format(".2f"))).call(styleAxis);
svg.append("g").attr("transform",`translate(${R},0)`)
  .call(d3.axisRight(y).tickValues(yTicks).tickSize(-8).tickFormat("")).call(styleAxis);

svg.append("rect").attr("x",L).attr("y",T).attr("width",R-L).attr("height",B-T)
  .attr("fill","none").attr("stroke","#000").attr("stroke-width",2);

titles.forEach((t,i)=>{
  svg.append("text").attr("x",x(-2.947)).attr("y",y(offsets[i]+0.01))
    .attr("font-family",FONT).attr("font-weight","bold").attr("font-size",30.6).attr("fill","#000").text(t);
});

svg.append("text").attr("x",756).attr("y",1351).attr("text-anchor","middle")
  .attr("font-family",FONT).attr("font-size",34.9).attr("fill","#000").text("Phased Time from Mid-Transit (hours)");
svg.append("text").attr("transform","translate(41,640) rotate(-90)").attr("text-anchor","middle")
  .attr("font-family",FONT).attr("font-size",34.5).attr("fill","#000").text("Relative Flux");
</script>
</body></html>
